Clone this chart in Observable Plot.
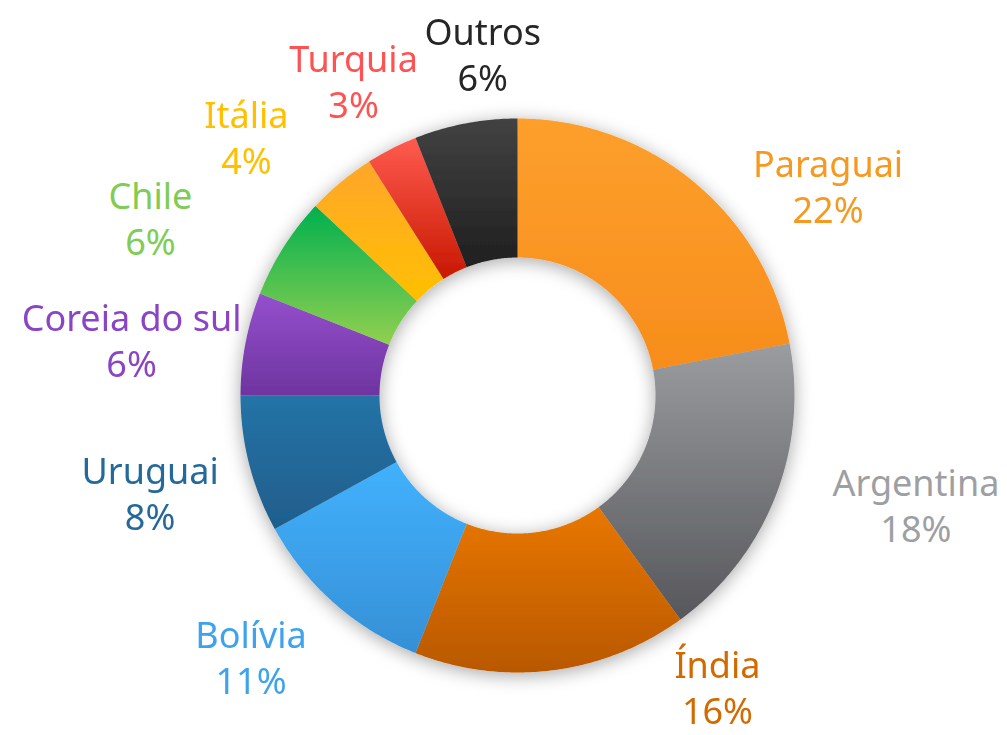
<!DOCTYPE html>
<html>
<head>
<meta charset="utf-8">
<script src="https://cdn.jsdelivr.net/npm/d3@7"></script>
<script src="https://cdn.jsdelivr.net/npm/@observablehq/plot@0.6"></script>
<style>
  html, body { margin: 0; padding: 0; background: #ffffff; }
  #chart { width: 1007px; height: 735px; }
</style>
</head>
<body>
<div id="chart"></div>
<script>
// ---------- data ----------
const categories = ["Paraguai", "Argentina", "Índia", "Bolívia", "Uruguai", "Coreia do sul", "Chile", "Itália", "Turquia", "Outros"];
const shares = [22, 18, 16, 11, 8, 6, 6, 4, 3, 6];
const shareLabels = ["22%", "18%", "16%", "11%", "8%", "6%", "6%", "4%", "3%", "6%"];

// ---------- styles ----------
const gradTop =    ["#FD9F2C", "#9B9CA0", "#E87700", "#42B1FD", "#2573A6", "#9550CD", "#00B050", "#FFA62B", "#FF5B50", "#424242"];
const gradBottom = ["#F78D1C", "#56575B", "#B95800", "#3590D6", "#1F5E8C", "#6E349F", "#92D050", "#FFC000", "#C81800", "#1F1F1F"];
const labelColors = ["#F7981F", "#9E9FA3", "#D36A00", "#3EA3EE", "#25699A", "#8A45C5", "#80CC55", "#FFC000", "#FF5252", "#262626"];

// ---------- layout ----------
const W = 1007, H = 735;
const CX = 517, CY = 395;          // donut centre in pixels
const R_OUT = 277, R_IN = 138;      // radii in pixels
// label block centre: [angle (deg, clockwise from 12 o'clock), distance from centre (px)]
const labelPolar = [[55.9, 375], [105.3, 413], [145.5, 353], [225.6, 373], [255.2, 380], [278.3, 390], [295.9, 408], [313.7, 375], [332.5, 355], [354.2, 344]];

// ---------- build geometry from data ----------
const total = d3.sum(shares);
let acc = 0;
const slices = categories.map((name, i) => {
  const a0 = acc / total * 360;
  acc += shares[i];
  const a1 = acc / total * 360;
  return {name, i, a0, a1};
});
const rad = a => a * Math.PI / 180;
function ringPoints(s) {
  const pts = [];
  const n = Math.max(2, Math.ceil((s.a1 - s.a0) / 0.5));
  for (let k = 0; k <= n; k++) {
    const a = rad(s.a0 + (s.a1 - s.a0) * k / n);
    pts.push({name: s.name, x: R_OUT * Math.sin(a), y: -R_OUT * Math.cos(a)});
  }
  for (let k = n; k >= 0; k--) {
    const a = rad(s.a0 + (s.a1 - s.a0) * k / n);
    pts.push({name: s.name, x: R_IN * Math.sin(a), y: -R_IN * Math.cos(a)});
  }
  return pts;
}
const labels = categories.map((name, i) => {
  const [ang, d] = labelPolar[i];
  return {
    text: name + "\n" + shareLabels[i],
    color: labelColors[i],
    x: d * Math.sin(rad(ang)),
    y: -d * Math.cos(rad(ang))
  };
});

const FONT = "'Noto Sans', 'Open Sans', sans-serif";

const svg = Plot.plot({
  width: W,
  height: H,
  margin: 0,
  x: {domain: [-CX, W - CX], range: [0, W], axis: null},
  y: {domain: [-CY, H - CY], range: [0, H], axis: null},
  color: {type: "identity"},
  style: {background: "#ffffff", fontFamily: FONT},
  marks: [
    ...slices.map(s => Plot.line(ringPoints(s), {
      x: "x", y: "y",
      fill: `url(#grad${s.i})`,
      stroke: "none",
      curve: "linear-closed"
    })),
    Plot.text(labels, {
      x: "x", y: "y",
      text: "text",
      fill: "color",
      fontSize: 36,
      lineHeight: 1.28,
      fontFamily: FONT,
      textAnchor: "middle"
    })
  ]
});

// gradients + shadow definitions
const ns = "http://www.w3.org/2000/svg";
const defs = document.createElementNS(ns, "defs");
slices.forEach(s => {
  const g = document.createElementNS(ns, "linearGradient");
  g.setAttribute("id", `grad${s.i}`);
  g.setAttribute("x1", "0"); g.setAttribute("y1", "0");
  g.setAttribute("x2", "0"); g.setAttribute("y2", "1");
  [[0, gradTop[s.i]], [1, gradBottom[s.i]]].forEach(([o, c]) => {
    const st = document.createElementNS(ns, "stop");
    st.setAttribute("offset", o);
    st.setAttribute("stop-color", c);
    g.appendChild(st);
  });
  defs.appendChild(g);
});
const filter = document.createElementNS(ns, "filter");
filter.setAttribute("id", "ringShadow");
filter.setAttribute("x", "-20%"); filter.setAttribute("y", "-20%");
filter.setAttribute("width", "140%"); filter.setAttribute("height", "140%");
const ds = document.createElementNS(ns, "feDropShadow");
ds.setAttribute("dx", "0"); ds.setAttribute("dy", "3");
ds.setAttribute("stdDeviation", "9");
ds.setAttribute("flood-color", "#000000");
ds.setAttribute("flood-opacity", "0.35");
filter.appendChild(ds);
defs.appendChild(filter);
svg.insertBefore(defs, svg.firstChild);

// group slices under one shadow
const sliceGroups = Array.from(svg.querySelectorAll('g[aria-label="line"]'));
if (sliceGroups.length) {
  const wrap = document.createElementNS(ns, "g");
  wrap.setAttribute("filter", "url(#ringShadow)");
  sliceGroups[0].parentNode.insertBefore(wrap, sliceGroups[0]);
  sliceGroups.forEach(g => wrap.appendChild(g));
}

document.getElementById("chart").appendChild(svg);
</script>
</body>
</html>
